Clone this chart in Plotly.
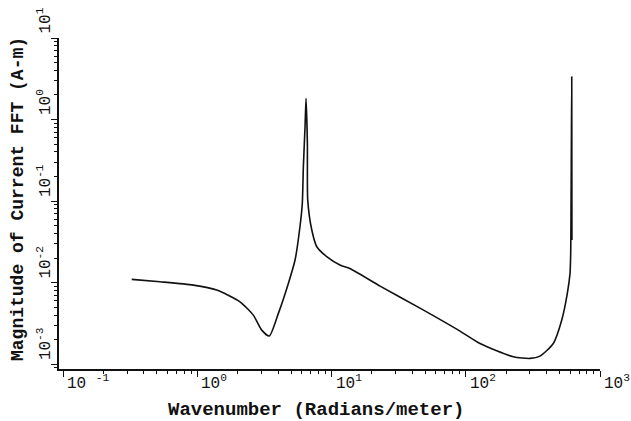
import plotly.graph_objects as go

# Wavenumber (rad/m) and magnitude of current FFT (A-m)
wavenumber = [0.325, 0.528, 0.935, 1.396, 2.08, 2.615, 3.02, 3.44, 4.02, 4.77,
              5.35, 5.82, 6.06, 6.17, 6.35, 6.46, 6.61, 6.65, 7.13, 7.77,
              9.21, 11.56, 13.7, 23.0, 45.6, 90.6, 127.7, 226, 301, 357,
              449, 519, 571, 598, 605, 616, 618]
magnitude = [0.01094, 0.01023, 0.00931, 0.00809, 0.00581, 0.00399, 0.00261, 0.00221, 0.00419, 0.00977,
             0.0189, 0.0484, 0.0937, 0.264, 0.816, 1.82, 0.511, 0.1028, 0.0441, 0.0275,
             0.0208, 0.0164, 0.0149, 0.00906, 0.00486, 0.00254, 0.00179, 0.00123, 0.001175, 0.001253,
             0.00179, 0.00347, 0.00736, 0.01297, 0.0230, 3.35, 0.0332]

x_tick_exponents = [-1, 0, 1, 2, 3]
y_tick_exponents = [-3, -2, -1, 0, 1]
x_title = "Wavenumber (Radians/meter)"
y_title = "Magnitude of Current FFT (A-m)"

FONT = "Liberation Mono"
INK = "#111111"

fig = go.Figure()
fig.add_trace(go.Scatter(x=wavenumber, y=magnitude, mode="lines", line_shape="spline",
                         line=dict(color=INK, width=1.6, smoothing=0.6), hoverinfo="skip"))

annotations = []
for e in x_tick_exponents:
    pre = "10 " if e < 0 else "10"
    annotations.append(dict(x=e, xref="x", y=0, yref="paper", yanchor="top", xanchor="left",
                            xshift=2, yshift=-1, showarrow=False,
                            text=f"{pre}<sup>{e}</sup>",
                            font=dict(family=FONT, size=16, color=INK)))
for e in y_tick_exponents:
    annotations.append(dict(x=0, xref="paper", y=e, yref="y", xanchor="right", yanchor="bottom",
                            xshift=-2, yshift=2, showarrow=False, textangle=-90,
                            text=f"10<sup>{e}</sup>",
                            font=dict(family=FONT, size=16, color=INK)))
annotations.append(dict(x=316, xref="paper", y=410, yref="paper", showarrow=False, text=x_title,
                        font=dict(family=FONT, size=19, color=INK, weight="bold")))
annotations.append(dict(x=18, xref="paper", y=199, yref="paper", showarrow=False, text=y_title,
                        textangle=-90, font=dict(family=FONT, size=18, color=INK, weight="bold")))

# convert pixel-placed title anchors into paper fractions
L, R, T, B = 59, 31, 38, 52
W, H = 631, 421
pw, ph = W - L - R, H - T - B
for a in annotations[-2:]:
    a["x"] = (a["x"] - L) / pw
    a["y"] = (H - B - a["y"]) / ph
    a["xanchor"] = "center"
    a["yanchor"] = "middle"

axis_common = dict(type="log", showgrid=False, zeroline=False, showline=True, linecolor=INK,
                   linewidth=1.5, ticks="outside", ticklen=6, tickwidth=1.3, tickcolor=INK,
                   dtick=1, showticklabels=False,
                   minor=dict(ticks="outside", ticklen=3, tickwidth=1, tickcolor=INK, dtick="D1"))

fig.update_layout(
    width=W, height=H,
    margin=dict(l=L, r=R, t=T, b=B),
    paper_bgcolor="white", plot_bgcolor="white",
    showlegend=False,
    xaxis=dict(range=[-1.03, 3], **axis_common),
    yaxis=dict(range=[-3.06, 1], **axis_common),
    annotations=annotations,
)

fig.write_html("out.html")
